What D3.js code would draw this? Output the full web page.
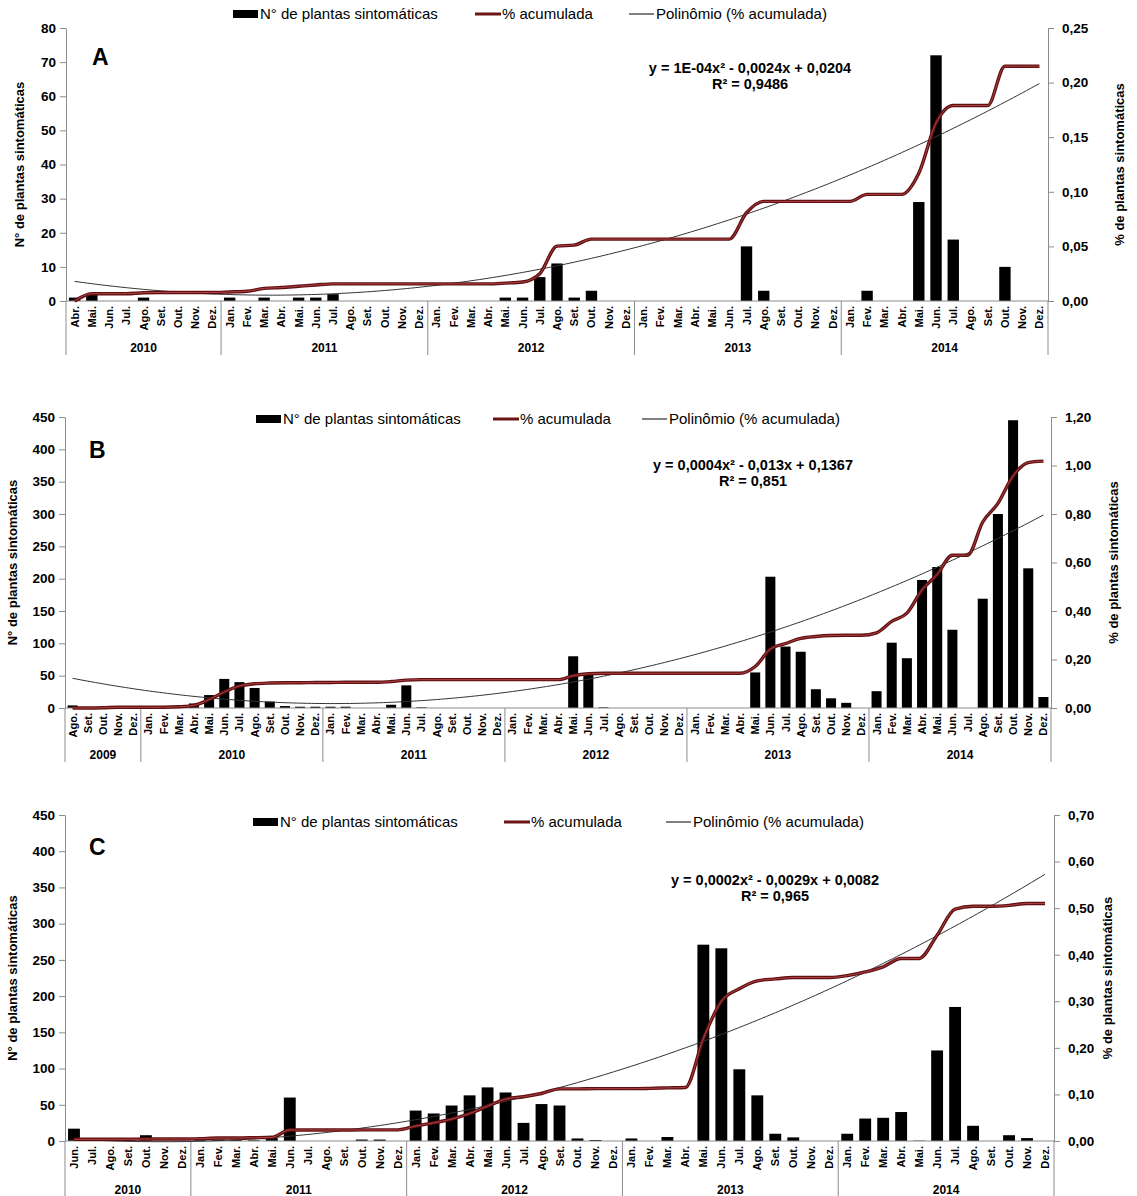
<!DOCTYPE html>
<html lang="pt">
  <head>
    <meta charset="UTF-8" />
    <title>Plantas sintomáticas</title>
    <style>
      body { margin: 0; background: #fff; }
      svg { font-family: Arial, 'Liberation Sans', sans-serif; }
      .axis path, .axis line { stroke: #8c8c8c; }
      .axis text { font-size: 13.5px; font-weight: bold; fill: #000; }
      .month { font-size: 11px; font-weight: bold; }
      .year { font-size: 12px; font-weight: bold; }
      .title { font-size: 13px; font-weight: bold; }
      .legend { font-size: 15px; }
      .eq { font-size: 14.5px; font-weight: bold; }
      .letter { font-size: 23px; font-weight: bold; }
    </style>
  </head>
  <body>
    <script src="https://cdn.jsdelivr.net/npm/d3@7"></script>
    <script>
      // month names and legend labels
      const monthNames = ['Jan.', 'Fev.', 'Mar.', 'Abr.', 'Mai.', 'Jun.', 'Jul.', 'Ago.', 'Set.', 'Out.', 'Nov.', 'Dez.'];
      const legendLabels = ['N° de plantas sintomáticas', '% acumulada', 'Polinômio (% acumulada)'];
      const leftTitle = 'N° de plantas sintomáticas';
      const rightTitle = '% de plantas sintomáticas';

      // Panel A (Abr 2010 - Dez 2014)
      const yearsA = ['2010', '2011', '2012', '2013', '2014'];
      const barsA = [
        1, 2, 0, 0, 1, 0, 0, 0, 0,
        1, 0, 1, 0, 1, 1, 2, 0, 0, 0, 0, 0,
        0, 0, 0, 0, 1, 1, 7, 11, 1, 3, 0, 0,
        0, 0, 0, 0, 0, 0, 16, 3, 0, 0, 0, 0,
        0, 3, 0, 0, 29, 72, 18, 0, 0, 10, 0, 0
      ];
      const accumA = [
        0, 0.0067, 0.0067, 0.0067, 0.0076, 0.0078, 0.0078, 0.0078, 0.0078,
        0.0083, 0.0089, 0.0116, 0.0123, 0.0135, 0.0147, 0.0157, 0.0157, 0.0157, 0.0157, 0.0157, 0.0157,
        0.0157, 0.0157, 0.0157, 0.0157, 0.0164, 0.0174, 0.025, 0.0503, 0.0512, 0.0567, 0.0567, 0.0567,
        0.0567, 0.0567, 0.0567, 0.0567, 0.0567, 0.0567, 0.0808, 0.0912, 0.0912, 0.0912, 0.0912, 0.0912,
        0.0912, 0.0976, 0.0976, 0.0976, 0.117, 0.163, 0.179, 0.179, 0.179, 0.215, 0.215, 0.215
      ];
      const eqA = ['y = 1E-04x² - 0,0024x + 0,0204', 'R² = 0,9486'];

      // Panel B (Ago 2009 - Dez 2014)
      const yearsB = ['2009', '2010', '2011', '2012', '2013', '2014'];
      const barsB = [
        4, 0, 0, 0, 0,
        0, 0, 0, 7, 20, 45, 40, 31, 10, 3, 2, 2,
        2, 2, 0, 0, 5, 35, 1, 0, 0, 0, 0, 0,
        0, 0, 0, 0, 80, 53, 1, 0, 0, 0, 0, 0,
        0, 0, 0, 0, 55, 203, 95, 87, 29, 15, 8, 0,
        26, 101, 77, 198, 218, 121, 0, 169, 300, 445, 216, 17
      ];
      const accumB = [
        0, 0, 0.001, 0.003, 0.003,
        0.003, 0.003, 0.005, 0.011, 0.035, 0.066, 0.091, 0.1, 0.103, 0.104, 0.104, 0.105,
        0.105, 0.106, 0.106, 0.106, 0.109, 0.115, 0.117, 0.117, 0.117, 0.117, 0.117, 0.117,
        0.117, 0.117, 0.117, 0.117, 0.133, 0.141, 0.143, 0.143, 0.143, 0.143, 0.143, 0.143,
        0.143, 0.143, 0.143, 0.143, 0.171, 0.243, 0.266, 0.287, 0.295, 0.299, 0.3, 0.3,
        0.31, 0.357, 0.391, 0.487, 0.551, 0.63, 0.63, 0.767, 0.844, 0.957, 1.012, 1.018
      ];
      const eqB = ['y = 0,0004x² - 0,013x + 0,1367', 'R² = 0,851'];

      // Panel C (Jun 2010 - Dez 2014)
      const yearsC = ['2010', '2011', '2012', '2013', '2014'];
      const barsC = [
        17, 1.5, 1.5, 1.5, 8, 0, 0,
        3, 2, 1.5, 1, 4, 60, 0, 0, 0, 2, 2, 0,
        42, 38, 49, 63, 74, 67, 25, 51, 49, 3.5, 1.4, 0,
        3.5, 0, 5.5, 0, 271, 266, 99, 63, 10, 5, 0, 0,
        10, 31, 32, 40, 0.5, 125, 185, 21, 0, 8, 4, 0
      ];
      const accumC = [
        0.0036, 0.0036, 0.0036, 0.0036, 0.0043, 0.0043, 0.0043,
        0.005, 0.0064, 0.0064, 0.007, 0.0079, 0.0236, 0.0236, 0.0236, 0.0236, 0.0238, 0.0238, 0.0238,
        0.032, 0.039, 0.047, 0.059, 0.075, 0.09, 0.095, 0.102, 0.112, 0.112, 0.1124, 0.1124,
        0.1124, 0.113, 0.114, 0.115, 0.22, 0.3, 0.327, 0.344, 0.348, 0.351, 0.351, 0.351,
        0.355, 0.363, 0.374, 0.392, 0.392, 0.442, 0.498, 0.504, 0.504, 0.506, 0.51, 0.51
      ];
      const eqC = ['y = 0,0002x² - 0,0029x + 0,0082', 'R² = 0,965'];

      const svg = d3.select('body').append('svg').attr('width', 1137).attr('height', 1196);

      // month sequence from a start month up to Dez of the last year
      const buildMonths = (years, start) => {
        const out = [];
        years.forEach((y, i) => {
          for (let m = i === 0 ? start : 0; m < 12; m++) out.push({ m: monthNames[m], year: y });
        });
        return out;
      };

      // least squares quadratic fit (the chart's polynomial trendline)
      const quadFit = (ys) => {
        let s = [0, 0, 0, 0, 0], t = [0, 0, 0];
        ys.forEach((y, i) => {
          const x = i + 1;
          for (let k = 0; k < 5; k++) s[k] += Math.pow(x, k);
          for (let k = 0; k < 3; k++) t[k] += y * Math.pow(x, k);
        });
        const M = [[s[0], s[1], s[2], t[0]], [s[1], s[2], s[3], t[1]], [s[2], s[3], s[4], t[2]]];
        for (let c = 0; c < 3; c++) {
          for (let r = c + 1; r < 3; r++) {
            const f = M[r][c] / M[c][c];
            for (let k = c; k < 4; k++) M[r][k] -= f * M[c][k];
          }
        }
        const b = [0, 0, 0];
        for (let r = 2; r >= 0; r--) {
          let v = M[r][3];
          for (let k = r + 1; k < 3; k++) v -= M[r][k] * b[k];
          b[r] = v / M[r][r];
        }
        return (x) => b[0] + b[1] * x + b[2] * x * x;
      };

      const comma = (d) => d3.format('.2f')(d).replace('.', ',');

      const drawPanel = (p) => {
        const months = buildMonths(p.years, p.start);
        const n = months.length;
        const g = svg.append('g');

        const x = d3.scaleBand().domain(d3.range(n)).range([p.left, p.right])
          .paddingInner(0.34).paddingOuter(0.17);
        const cx = (i) => x(i) + x.bandwidth() / 2;
        const yL = d3.scaleLinear().domain([0, p.maxL]).range([p.bottom, p.top]);
        const yR = d3.scaleLinear().domain([0, p.maxR]).range([p.bottom, p.top]);

        // bars
        g.selectAll('rect.bar').data(p.bars).enter().append('rect')
          .attr('x', (d, i) => x(i))
          .attr('y', (d) => yL(d))
          .attr('width', x.bandwidth())
          .attr('height', (d) => p.bottom - yL(d))
          .attr('fill', '#000');

        // axes
        g.append('g').attr('class', 'axis').attr('transform', `translate(${p.left},0)`)
          .call(d3.axisLeft(yL).tickValues(d3.range(0, p.maxL + 1, p.stepL)).tickSize(6).tickSizeOuter(0).tickPadding(4));
        g.append('g').attr('class', 'axis').attr('transform', `translate(${p.right},0)`)
          .call(d3.axisRight(yR).tickValues(d3.range(0, p.maxR + 1e-9, p.stepR)).tickFormat(comma)
            .tickSize(6).tickSizeOuter(0).tickPadding(8));

        // category axis
        g.append('line').attr('x1', p.left).attr('x2', p.right).attr('y1', p.bottom).attr('y2', p.bottom)
          .attr('stroke', '#8c8c8c');
        g.selectAll('text.month').data(months).enter().append('text')
          .attr('class', 'month')
          .attr('text-anchor', 'end')
          .attr('transform', (d, i) => `translate(${cx(i) + 4},${p.bottom + 5}) rotate(-90)`)
          .text((d) => d.m);

        // year groups
        let idx = 0;
        const bounds = [0];
        p.years.forEach((y) => {
          const cnt = months.filter((m) => m.year === y).length;
          const a = x(idx) - x.step() * 0.17, b = x(idx + cnt - 1) + x.bandwidth() + x.step() * 0.17;
          g.append('text').attr('class', 'year').attr('text-anchor', 'middle')
            .attr('x', (a + b) / 2).attr('y', p.yearY).text(y);
          idx += cnt;
          bounds.push(idx);
        });
        g.selectAll('line.sep').data(bounds).enter().append('line')
          .attr('x1', (d) => (d === n ? p.right : d === 0 ? p.left : x(d) - x.step() * 0.17))
          .attr('x2', (d) => (d === n ? p.right : d === 0 ? p.left : x(d) - x.step() * 0.17))
          .attr('y1', p.bottom).attr('y2', p.sepBottom)
          .attr('stroke', '#8c8c8c');

        // trendline
        const fit = quadFit(p.accum);
        const trend = d3.range(0, n - 1 + 0.01, 0.25).map((t) => [x(0) + x.bandwidth() / 2 + t * x.step(), yR(fit(t + 1))]);
        g.append('path').attr('d', d3.line()(trend)).attr('fill', 'none').attr('stroke', '#333').attr('stroke-width', 1);

        // cumulative line
        const acc = d3.line().x((d, i) => cx(i)).y((d) => yR(d)).curve(d3.curveMonotoneX);
        g.append('path').attr('d', acc(p.accum)).attr('fill', 'none').attr('stroke', '#5e1012').attr('stroke-width', 3.4);
        g.append('path').attr('d', acc(p.accum)).attr('fill', 'none').attr('stroke', '#b04040').attr('stroke-width', 1);

        // axis titles
        g.append('text').attr('class', 'title').attr('text-anchor', 'middle')
          .attr('transform', `translate(${p.lt},${(p.top + p.bottom) / 2}) rotate(-90)`).text(leftTitle);
        g.append('text').attr('class', 'title').attr('text-anchor', 'middle')
          .attr('transform', `translate(${p.rt},${(p.top + p.bottom) / 2}) rotate(-90)`).text(rightTitle);

        // legend
        const ly = p.legendY;
        g.append('rect').attr('x', p.lx[0]).attr('y', ly - 4).attr('width', 25).attr('height', 8).attr('fill', '#000');
        g.append('line').attr('x1', p.lx[1]).attr('x2', p.lx[1] + 26).attr('y1', ly).attr('y2', ly)
          .attr('stroke', '#6b1416').attr('stroke-width', 3);
        g.append('line').attr('x1', p.lx[2]).attr('x2', p.lx[2] + 25).attr('y1', ly).attr('y2', ly)
          .attr('stroke', '#000').attr('stroke-width', 1);
        legendLabels.forEach((l, i) => {
          g.append('text').attr('class', 'legend').attr('x', p.lx[i] + 27).attr('y', ly + 5).text(l);
        });

        // panel letter and equation
        g.append('text').attr('class', 'letter').attr('x', p.letter[0]).attr('y', p.letter[1]).text(p.id);
        p.eq.forEach((t, i) => {
          g.append('text').attr('class', 'eq').attr('text-anchor', 'middle')
            .attr('x', p.eqX).attr('y', p.eqY + i * 16).text(t);
        });
      };

      drawPanel({
        id: 'A', years: yearsA, start: 3, bars: barsA, accum: accumA, eq: eqA,
        maxL: 80, stepL: 10, maxR: 0.25, stepR: 0.05,
        left: 66, right: 1048, top: 28, bottom: 301, sepBottom: 355, yearY: 352,
        lt: 24, rt: 1124, legendY: 14, lx: [233, 475, 629], letter: [92, 65], eqX: 750, eqY: 73
      });
      drawPanel({
        id: 'B', years: yearsB, start: 7, bars: barsB, accum: accumB, eq: eqB,
        maxL: 450, stepL: 50, maxR: 1.2, stepR: 0.2,
        left: 65, right: 1051, top: 417, bottom: 708, sepBottom: 762, yearY: 759,
        lt: 17, rt: 1118, legendY: 419, lx: [256, 493, 642], letter: [89, 458], eqX: 753, eqY: 470
      });
      drawPanel({
        id: 'C', years: yearsC, start: 5, bars: barsC, accum: accumC, eq: eqC,
        maxL: 450, stepL: 50, maxR: 0.7, stepR: 0.1,
        left: 65, right: 1054, top: 815, bottom: 1141, sepBottom: 1196, yearY: 1194,
        lt: 17, rt: 1112, legendY: 822, lx: [253, 504, 666], letter: [89, 855], eqX: 775, eqY: 885
      });
    </script>
  </body>
</html>
